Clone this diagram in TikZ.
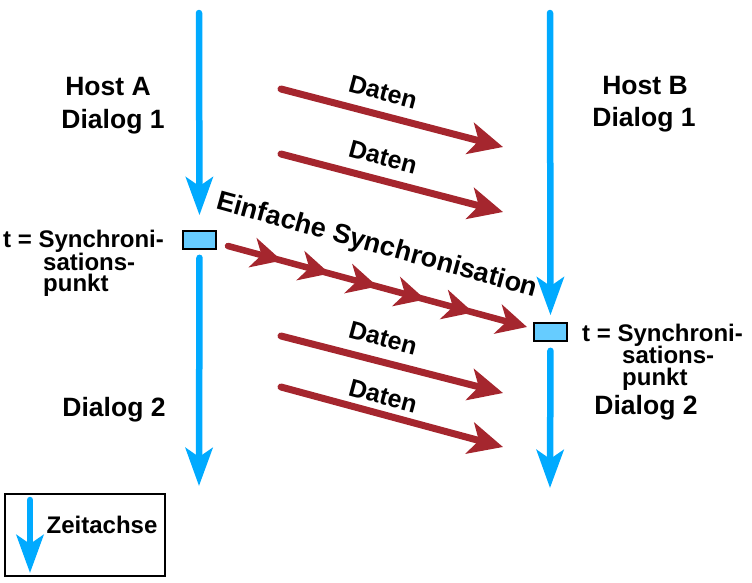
\documentclass[tikz,border=0pt]{standalone}
\usepackage{fontspec}
\setmainfont{Liberation Sans}
\usetikzlibrary{arrows.meta,decorations.markings}
\definecolor{axisblue}{HTML}{00AAFF}
\definecolor{boxblue}{HTML}{66CCFF}
\definecolor{datared}{HTML}{A5262E}
\tikzset{
  axis/.style={draw=axisblue, line width=6.5pt, line cap=round,
    -{Stealth[length=38pt,width=27pt,inset=9pt]}},
  datarrow/.style={draw=datared, line width=7pt, line cap=round,
    -{Stealth[length=34pt,width=32pt,inset=9pt]}},
  syncbox/.style={draw=black, fill=boxblue, line width=1.6pt,
    minimum width=33pt, minimum height=18pt, inner sep=0pt},
  big/.style={font=\bfseries\fontsize{26.5}{28}\selectfont, inner sep=0pt},
  mid/.style={font=\bfseries\fontsize{24}{26}\selectfont, inner sep=0pt},
  dat/.style={font=\bfseries\fontsize{25}{27}\selectfont, inner sep=0pt},
  synctip/.tip={Stealth[length=30pt,width=30pt,inset=9pt]},
}
\begin{document}
\begin{tikzpicture}[x=1pt,y=-1pt]
\useasboundingbox (0,0) rectangle (752,582);

% boxes
\node[syncbox] (boxA) at (199.5,240) {};
\node[syncbox] (boxB) at (550.5,332) {};

% axes
\coordinate (Atop) at (199,13);
\coordinate (Abot) at (199,486);
\coordinate (Btop) at (550,13);
\coordinate (Bbot) at (550,488);
\draw[axis, shorten >=15pt] (Atop) -- (boxA.north);
\draw[axis, shorten <=8pt] (boxA.south) -- (Abot);
\draw[axis, shorten >=7pt] (Btop) -- (boxB.north);
\draw[axis, shorten <=9pt] (boxB.south) -- (Bbot);

% data arrows
\coordinate (d1s) at (281,89);  \coordinate (d1e) at (503,147);
\coordinate (d2s) at (281,154); \coordinate (d2e) at (503,212);
\coordinate (d3s) at (281,336); \coordinate (d3e) at (503,393);
\coordinate (d4s) at (281,387); \coordinate (d4e) at (503,447);
\draw[datarrow] (d1s) -- (d1e);
\draw[datarrow] (d2s) -- (d2e);
\draw[datarrow] (d3s) -- (d3e);
\draw[datarrow] (d4s) -- (d4e);
\node[dat, rotate=-15] (t1) at (383,92) {Daten};
\node[dat, rotate=-15] (t2) at (383,157) {Daten};
\node[dat, rotate=-15] (t3) at (383,338) {Daten};
\node[dat, rotate=-15] (t4) at (383,396) {Daten};

% synchronisation arrow
\coordinate (s0) at (228,246);
\coordinate (s1) at (527,327);
\draw[draw=datared, color=datared, line width=6.5pt, line cap=round,
  -synctip,
  postaction={decorate},
  decoration={markings,
    mark=at position 0.18 with {\arrow{synctip}},
    mark=at position 0.34 with {\arrow{synctip}},
    mark=at position 0.50 with {\arrow{synctip}},
    mark=at position 0.66 with {\arrow{synctip}},
    mark=at position 0.82 with {\arrow{synctip}}}]
  (s0) -- (s1);
\node[font=\bfseries\fontsize{27}{29}\selectfont, inner sep=0pt,
  rotate=-15.5] (sync) at (377,246) {Einfache Synchronisation};

% host labels
\node[big] (hostA) at (108,87) {Host A};
\node[big] (dA1) at (113,121.5) {Dialog 1};
\node[big] (dA2) at (114,410) {Dialog 2};
\node[big] (hostB) at (645,86) {Host B};
\node[big] (dB1) at (644,120) {Dialog 1};
\node[big] (dB2) at (646,408) {Dialog 2};

% sync point labels
\node[mid, anchor=base west] (tA1) at (3,247) {t = Synchroni-};
\node[mid, anchor=base west] (tA2) at (43,270) {sations-};
\node[mid, anchor=base west] (tA3) at (43,291) {punkt};
\node[mid, anchor=base west] (tB1) at (582,341) {t = Synchroni-};
\node[mid, anchor=base west] (tB2) at (622,363) {sations-};
\node[mid, anchor=base west] (tB3) at (622,385) {punkt};

% legend
\node[draw=black, line width=1.5pt, minimum width=160pt, minimum height=82pt,
  inner sep=0pt] (legend) at (85,535) {};
\coordinate (lt) at (30,500);
\coordinate (lb) at (30,573);
\draw[axis] (lt) -- (lb);
\node[mid] (zeit) at (102,525) {Zeitachse};
\end{tikzpicture}
\end{document}
